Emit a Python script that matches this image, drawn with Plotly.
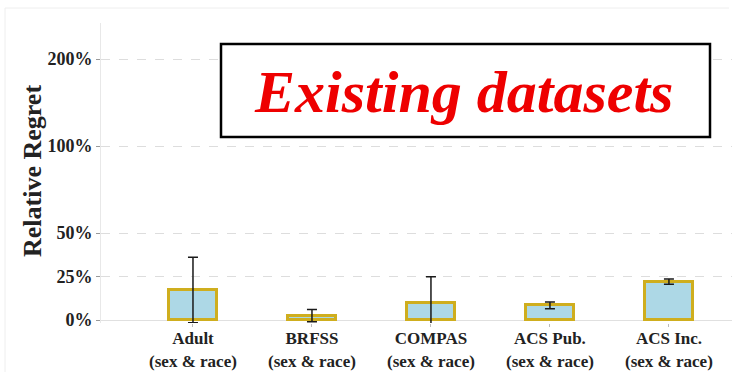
import math
import plotly.graph_objects as go

# ---- data (percent) ----
categories = ["Adult<br>(sex & race)", "BRFSS<br>(sex & race)", "COMPAS<br>(sex & race)",
              "ACS Pub.<br>(sex & race)", "ACS Inc.<br>(sex & race)"]
regret = [17.2, 2.5, 9.6, 8.4, 22.0]
err = [18.8, 3.5, 15.3, 1.9, 1.5]
tick_values = [0, 25, 50, 100, 200]
tick_labels = ["0%", "25%", "50%", "100%", "200%"]
y_title = "<b>Relative Regret</b>"
title_text = "<b><i>Existing datasets</i></b>"

SERIF = "Liberation Serif, Times New Roman, serif"


def f(v):
    # linear below 100%, log2-compressed above
    return v if v <= 100 else 100 + 50 * math.log2(v / 100)


xs = list(range(len(categories)))
ty = [f(v) for v in regret]
eplus = [f(v + e) - f(v) for v, e in zip(regret, err)]
eminus = [f(v) - f(v - e) for v, e in zip(regret, err)]

fig = go.Figure()
fig.add_trace(go.Bar(
    x=xs, y=ty, width=0.41,
    marker=dict(color="#add8e6", line=dict(color="#cfae1e", width=3)),
    error_y=dict(type="data", array=eplus, arrayminus=eminus, visible=True,
                 color="#1a1a1a", thickness=1.5, width=5),
    cliponaxis=True,
))

W, H = 732, 372
L, R, T, B = 101, 0, 23, 49

fig.update_layout(
    width=W, height=H,
    margin=dict(l=L, r=R, t=T, b=B, pad=0, autoexpand=False),
    paper_bgcolor="white", plot_bgcolor="white",
    showlegend=False,
    bargap=0,
    xaxis=dict(
        range=[-0.773, 4.53], automargin=False,
        tickmode="array", tickvals=xs,
        ticktext=["<b>" + c.replace("<br>", "</b><br><b>") + "</b>" for c in categories],
        tickfont=dict(family=SERIF, size=17, color="#222"),
        ticks="outside", ticklen=3, tickcolor="#bbbbbb",
        ticklabelstandoff=-3,
        showgrid=False, zeroline=False, showline=False,
    ),
    yaxis=dict(
        range=[-1.72, 170.7], automargin=False,
        tickmode="array", tickvals=[f(v) for v in tick_values],
        ticktext=["<b>" + t + "</b>" for t in tick_labels],
        tickfont=dict(family=SERIF, size=18, color="#222"),
        ticks="outside", ticklen=4, tickcolor="#999999",
        showgrid=True, gridcolor="#dddddd", griddash="dash", gridwidth=1,
        zeroline=True, zerolinecolor="#e0e0e0", zerolinewidth=1,
        showline=True, linecolor="#e8e8e8", linewidth=1,
    ),
)

plot_w = W - L - R
plot_h = H - T - B


def px(xp):
    return (xp - L) / plot_w


def py(yp):
    return (H - B - yp) / plot_h


# y-axis title
fig.add_annotation(xref="paper", yref="paper", x=px(32), y=py(171), xanchor="center", yanchor="middle",
                   text=y_title, textangle=-90, showarrow=False,
                   font=dict(family=SERIF, size=26, color="#222"))

# outer faint frame lines (slide border)
fig.add_shape(type="line", xref="paper", yref="paper", x0=px(5), x1=px(729), y0=py(8), y1=py(8),
              line=dict(color="#eeeeee", width=1))
fig.add_shape(type="line", xref="paper", yref="paper", x0=px(5), x1=px(5), y0=py(8), y1=py(372),
              line=dict(color="#eeeeee", width=1))

# title box
fig.add_shape(type="rect", xref="paper", yref="paper", x0=px(221), x1=px(710), y0=py(137), y1=py(44),
              line=dict(color="black", width=2.5), fillcolor="white", layer="above")
fig.add_annotation(xref="paper", yref="paper", x=px(463), y=py(92), xanchor="center", yanchor="middle",
                   text=title_text, showarrow=False,
                   font=dict(family=SERIF, size=60, color="#ee0000", weight=900))

fig.write_html("out.html")
